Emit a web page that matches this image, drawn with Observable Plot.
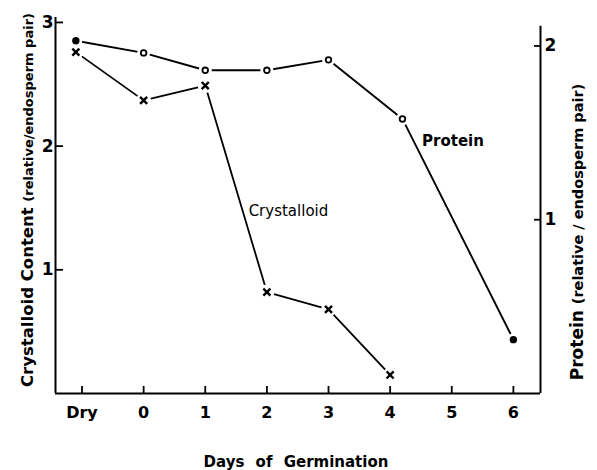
<!DOCTYPE html>
<html><head><meta charset="utf-8">
<script src="https://cdn.jsdelivr.net/npm/d3@7"></script>
<script src="https://cdn.jsdelivr.net/npm/@observablehq/plot@0.6"></script>
<style>
body{margin:0;background:#fff}
svg{display:block}
</style>
</head><body><div id="chart"></div>
<script>
// x categories (Dry plotted at -1)
const dayTicks = [-1, 0, 1, 2, 3, 4, 5, 6];
const dayLabels = ["Dry", "0", "1", "2", "3", "4", "5", "6"];
// Protein (right axis, relative / endosperm pair)
const proteinDays = [-1.1, 0, 1, 2, 3, 4.2, 6];
const proteinValues = [2.03, 1.96, 1.86, 1.86, 1.92, 1.58, 0.31];
const proteinFilled = [true, false, false, false, false, false, true];
// Crystalloid content (left axis, relative / endosperm pair)
const crystDays = [-1.1, 0, 1, 2, 3, 4];
const crystValues = [2.76, 2.37, 2.49, 0.82, 0.68, 0.15];
// axis ticks
const leftTicks = [1, 2, 3];
const rightTicks = [1, 2];
const xDomain = [-1.43, 6.44];
const yDomain = [0, 3.04];
const rightAxisTop = 2.97;
const K = 1.405; // protein units -> left-axis units
// annotation positions (data units)
const proteinLabel = {x: 5.02, y: 2.04, text: "Protein"};
const crystLabel = {x: 2.35, y: 1.47, text: "Crystalloid"};

const FONT = "DejaVu Sans";
const pIdx = d3.range(proteinDays.length);
const cIdx = d3.range(crystDays.length);

const chart = Plot.plot({
  width: 597, height: 470,
  marginLeft: 55, marginRight: 57, marginTop: 17, marginBottom: 77,
  style: {fontFamily: FONT, background: "#fff", color: "#000"},
  x: {domain: xDomain},
  y: {domain: yDomain},
  marks: [
    Plot.ruleX([xDomain[0]], {y1: yDomain[0], y2: yDomain[1], strokeWidth: 2}),
    Plot.ruleX([xDomain[1]], {y1: yDomain[0], y2: rightAxisTop, strokeWidth: 2}),
    Plot.ruleY([0], {x1: xDomain[0], x2: xDomain[1], strokeWidth: 2}),
    Plot.axisX(dayTicks, {anchor: "bottom", tickSize: -7, tickPadding: 20, strokeWidth: 1.8,
      tickFormat: (d) => dayLabels[dayTicks.indexOf(d)], fontSize: 16, fontWeight: "bold", label: null}),
    Plot.axisY(leftTicks, {anchor: "left", tickSize: -8, tickPadding: 10, strokeWidth: 1.8,
      tickFormat: (d) => String(d), fontSize: 17, fontWeight: "bold", label: null}),
    Plot.axisY(rightTicks.map(d => d * K), {anchor: "right", tickSize: -7, tickPadding: 11, strokeWidth: 1.8,
      tickFormat: (d) => String(Math.round(d / K)), fontSize: 17, fontWeight: "bold", label: null}),
    // protein
    Plot.line(pIdx, {x: i => proteinDays[i], y: i => proteinValues[i] * K, strokeWidth: 1.9}),
    Plot.dot(pIdx, {x: i => proteinDays[i], y: i => proteinValues[i] * K, r: 6.5, fill: "white", stroke: "none"}),
    Plot.dot(pIdx, {x: i => proteinDays[i], y: i => proteinValues[i] * K, r: 2.8, stroke: "black", strokeWidth: 1.8,
      fill: i => proteinFilled[i] ? "black" : "white"}),
    // crystalloid
    Plot.line(cIdx, {x: i => crystDays[i], y: i => crystValues[i], strokeWidth: 1.8}),
    Plot.dot(cIdx, {x: i => crystDays[i], y: i => crystValues[i], r: 7.5, fill: "white", stroke: "none"}),
    Plot.dot(cIdx, {x: i => crystDays[i], y: i => crystValues[i], symbol: "times", r: 3.3,
      stroke: "black", strokeWidth: 2.4}),
    // annotations
    Plot.text([proteinLabel], {x: "x", y: "y", text: "text", fontWeight: "bold", fontSize: 15}),
    Plot.text([crystLabel], {x: "x", y: "y", text: "text", fontWeight: 500, fontSize: 15})
  ]
});

const svg = d3.select(chart);
function title(x, y, parts) {
  const t = svg.append("text")
    .attr("transform", `translate(${x},${y}) rotate(-90)`)
    .attr("text-anchor", "middle")
    .attr("font-family", FONT).attr("font-weight", "bold").attr("fill", "#000");
  parts.forEach(([s, fs]) => t.append("tspan").attr("font-size", fs).text(s));
}
title(33, 200, [["Crystalloid Content ", 16.5], ["(relative/endosperm pair)", 13]]);
title(583, 232, [["Protein ", 17], ["(relative / endosperm pair)", 14.5]]);
svg.append("text").attr("x", 296).attr("y", 467).attr("text-anchor", "middle")
  .attr("font-family", FONT).attr("font-weight", "bold").attr("font-size", 15)
  .attr("word-spacing", 6).attr("fill", "#000").text("Days of Germination");

document.getElementById("chart").appendChild(chart);
</script>
</body></html>
